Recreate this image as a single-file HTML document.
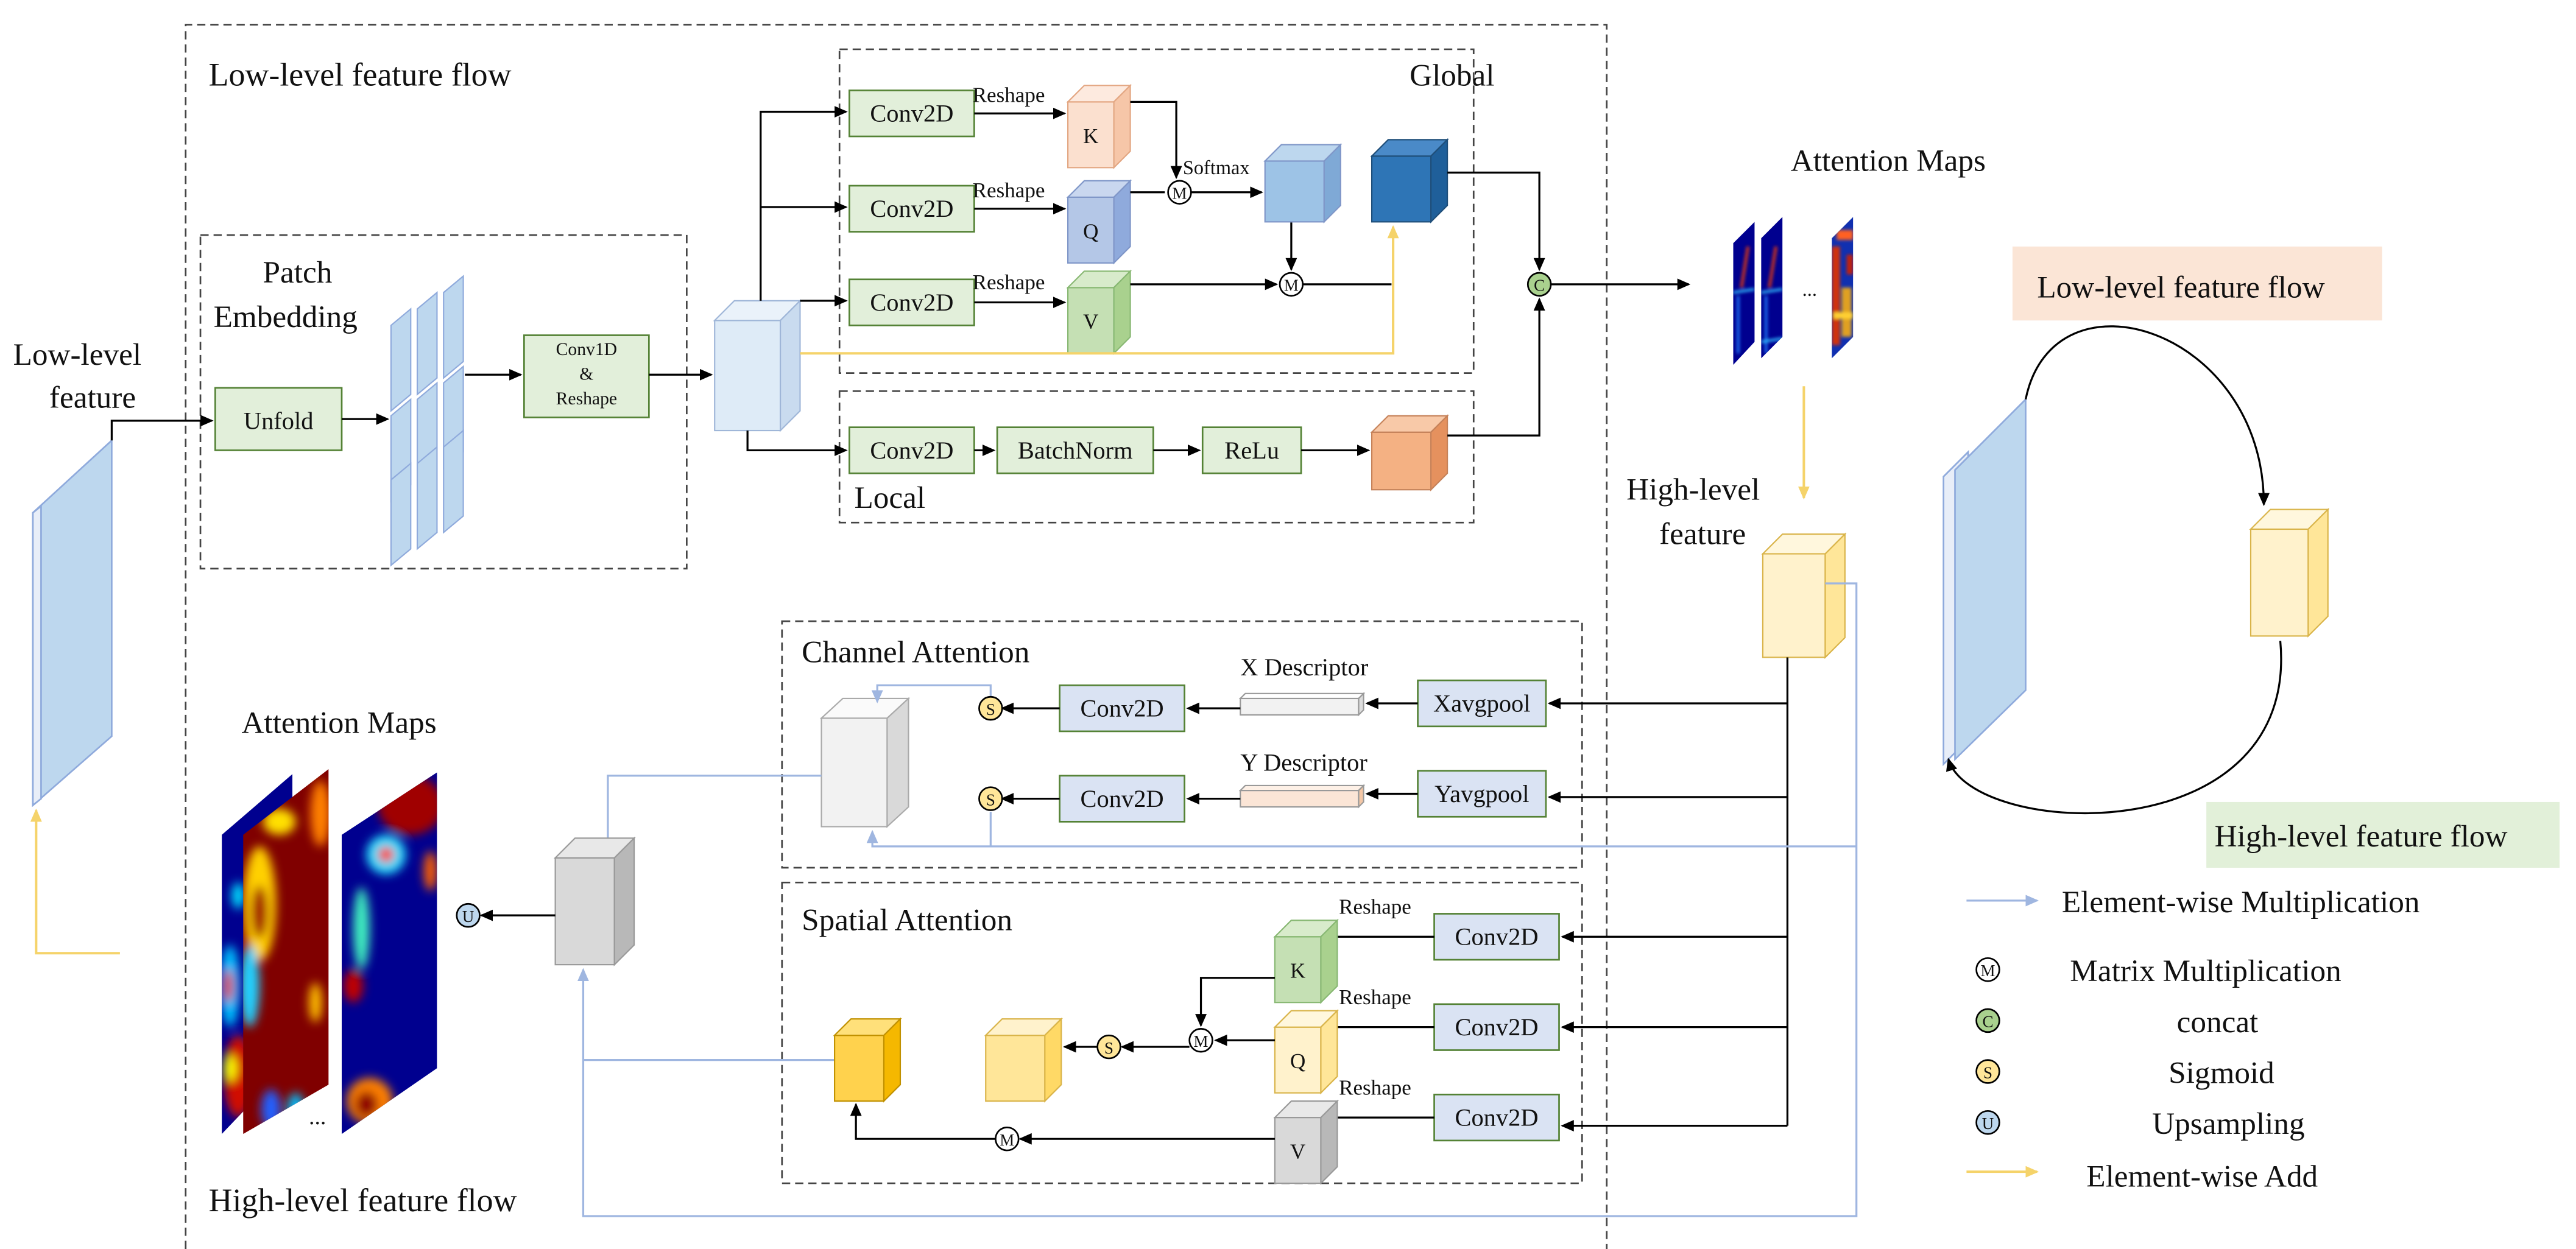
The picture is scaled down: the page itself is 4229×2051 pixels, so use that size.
<!DOCTYPE html>
<html><head><meta charset="utf-8"><style>
html,body{margin:0;padding:0;background:#fff;}
svg{display:block;}
text{font-family:"Liberation Serif",serif;fill:#111;}
</style></head><body>
<svg width="4229" height="2051" viewBox="0 0 1568 760" preserveAspectRatio="none" xmlns="http://www.w3.org/2000/svg">
<defs>
<marker id="a" markerWidth="8" markerHeight="8" refX="7" refY="4" orient="auto" markerUnits="userSpaceOnUse"><path d="M0,0.5 L8,4 L0,7.5 Z" fill="#000"/></marker>
<marker id="b" markerWidth="8" markerHeight="8" refX="7" refY="4" orient="auto" markerUnits="userSpaceOnUse"><path d="M0,0.5 L8,4 L0,7.5 Z" fill="#9fb6e0"/></marker>
<marker id="y" markerWidth="8" markerHeight="8" refX="7" refY="4" orient="auto" markerUnits="userSpaceOnUse"><path d="M0,0.5 L8,4 L0,7.5 Z" fill="#f5d36a"/></marker>
<filter id="bl" x="-20%" y="-20%" width="140%" height="140%"><feGaussianBlur stdDeviation="3"/></filter>
<filter id="bl2" x="-20%" y="-20%" width="140%" height="140%"><feGaussianBlur stdDeviation="1"/></filter>
<clipPath id="c1"><polygon points="135,508 178,471 178,645 135,690"/></clipPath>
<clipPath id="c2"><polygon points="148,508 200,468 200,660 148,690"/></clipPath>
<clipPath id="c3"><polygon points="208,508 266,470 266,650 208,690"/></clipPath>
<clipPath id="t1"><polygon points="1055,148 1068,135 1068,208 1055,222"/></clipPath>
<clipPath id="t2"><polygon points="1072,145 1085,132 1085,205 1072,218"/></clipPath>
<clipPath id="t3"><polygon points="1115,145 1128,132 1128,205 1115,218"/></clipPath>
</defs>

<!-- big dashed box -->
<g fill="none" stroke="#444" stroke-width="1" stroke-dasharray="5,3">
<path d="M113,760 L113,15 L978,15 L978,760"/>
<rect x="122" y="143" width="296" height="203"/>
<rect x="511" y="30" width="386" height="197"/>
<rect x="511" y="238" width="386" height="80"/>
<rect x="476" y="378" width="487" height="150"/>
<rect x="476" y="537" width="487" height="183"/>
</g>

<text x="127" y="52" font-size="20">Low-level feature flow</text>
<text x="160" y="172" font-size="19">Patch</text>
<text x="130" y="199" font-size="19">Embedding</text>
<text x="8" y="222" font-size="19">Low-level</text>
<text x="30" y="248" font-size="19">feature</text>
<text x="858" y="52" font-size="19">Global</text>
<text x="520" y="309" font-size="19">Local</text>
<text x="1090" y="104" font-size="19">Attention Maps</text>
<text x="990" y="304" font-size="19">High-level</text>
<text x="1010" y="331" font-size="19">feature</text>
<text x="488" y="403" font-size="19">Channel Attention</text>
<text x="488" y="566" font-size="19">Spatial Attention</text>
<text x="147" y="446" font-size="19">Attention Maps</text>
<text x="127" y="737" font-size="20">High-level feature flow</text>

<!-- left slab -->
<polygon points="20,312 68,268 68,448 20,490" fill="#bdd7ee" stroke="#8faadc" stroke-width="1"/>
<polygon points="20,312 25,308 25,486 20,490" fill="#e8eef8" stroke="#8faadc" stroke-width="1"/>
<polyline points="68,268 68,256 129,256" fill="none" stroke="#000" stroke-width="1.2" marker-end="url(#a)"/>
<polyline points="73,580 22,580 22,493" fill="none" stroke="#f5d36a" stroke-width="1.5" marker-end="url(#y)"/>

<!-- Unfold -->
<rect x="131" y="236" width="77" height="38" fill="#e2efda" stroke="#548235"/>
<text x="169.5" y="261" font-size="15" text-anchor="middle">Unfold</text>
<line x1="208" y1="255" x2="236" y2="255" stroke="#000" stroke-width="1.2" marker-end="url(#a)"/>
<g fill="#bdd7ee" stroke="#8faadc" stroke-width="0.8">
<polygon points="238,198 250,188 250,240 238,250"/><polygon points="254,188 266,178 266,230 254,240"/><polygon points="270,178 282,168 282,220 270,230"/>
<polygon points="238,253 250,243 250,295 238,305"/><polygon points="254,243 266,233 266,285 254,295"/><polygon points="270,233 282,223 282,275 270,285"/>
<polygon points="238,292 250,282 250,334 238,344"/><polygon points="254,282 266,272 266,324 254,334"/><polygon points="270,272 282,262 282,314 270,324"/>
</g>
<line x1="283" y1="228" x2="317" y2="228" stroke="#000" stroke-width="1.2" marker-end="url(#a)"/>
<rect x="319" y="204" width="76" height="50" fill="#e2efda" stroke="#548235"/>
<text x="357" y="216" font-size="11" text-anchor="middle">Conv1D</text>
<text x="357" y="231" font-size="11" text-anchor="middle">&amp;</text>
<text x="357" y="246" font-size="11" text-anchor="middle">Reshape</text>
<line x1="395" y1="228" x2="433" y2="228" stroke="#000" stroke-width="1.2" marker-end="url(#a)"/>
<g stroke="#9fb6d8" stroke-width="0.8"><rect x="435" y="195" width="40" height="67" fill="#deebf7"/><polygon points="435,195 447,183 487,183 475,195" fill="#eaf2fa"/><polygon points="475,195 487,183 487,250 475,262" fill="#c9dbef"/></g>

<g fill="none" stroke="#000" stroke-width="1.2">
<polyline points="463,183 463,68 515,68" marker-end="url(#a)"/>
<line x1="463" y1="126" x2="515" y2="126" marker-end="url(#a)"/>
<line x1="487" y1="183" x2="515" y2="183" marker-end="url(#a)"/>
<polyline points="455,262 455,274 515,274" marker-end="url(#a)"/>
</g>
<g fill="#e2efda" stroke="#548235"><rect x="517" y="55" width="76" height="28"/><rect x="517" y="113" width="76" height="28"/><rect x="517" y="170" width="76" height="28"/><rect x="517" y="260" width="76" height="28"/><rect x="607" y="260" width="95" height="28"/><rect x="732" y="260" width="60" height="28"/></g>
<g font-size="15" text-anchor="middle"><text x="555" y="74">Conv2D</text><text x="555" y="132">Conv2D</text><text x="555" y="189">Conv2D</text><text x="555" y="279">Conv2D</text><text x="654.5" y="279">BatchNorm</text><text x="762" y="279">ReLu</text></g>
<g font-size="13"><text x="592" y="62">Reshape</text><text x="592" y="120">Reshape</text><text x="592" y="176">Reshape</text></g>
<g stroke="#000" stroke-width="1.2" fill="none">
<line x1="593" y1="69" x2="648" y2="69" marker-end="url(#a)"/>
<line x1="593" y1="127" x2="648" y2="127" marker-end="url(#a)"/>
<line x1="593" y1="184" x2="648" y2="184" marker-end="url(#a)"/>
<line x1="593" y1="274" x2="605" y2="274" marker-end="url(#a)"/>
<line x1="702" y1="274" x2="730" y2="274" marker-end="url(#a)"/>
<line x1="792" y1="274" x2="833" y2="274" marker-end="url(#a)"/>
</g>
<g stroke-width="0.8">
<g stroke="#e3a783"><rect x="650" y="62" width="28" height="40" fill="#fbe0cf"/><polygon points="650,62 660,52 688,52 678,62" fill="#fdeadf"/><polygon points="678,62 688,52 688,92 678,102" fill="#f6c6a8"/></g>
<g stroke="#7f96c8"><rect x="650" y="120" width="28" height="40" fill="#b4c7e7"/><polygon points="650,120 660,110 688,110 678,120" fill="#c9d7ef"/><polygon points="678,120 688,110 688,150 678,160" fill="#8faadc"/></g>
<g stroke="#88b873"><rect x="650" y="175" width="28" height="40" fill="#c5e0b4"/><polygon points="650,175 660,165 688,165 678,175" fill="#d8ebcb"/><polygon points="678,175 688,165 688,205 678,215" fill="#a9d18e"/></g>
</g>
<g font-size="13" text-anchor="middle"><text x="664" y="87">K</text><text x="664" y="145">Q</text><text x="664" y="200">V</text></g>
<g fill="none" stroke="#000" stroke-width="1.2">
<polyline points="688,62 716,62 716,108" marker-end="url(#a)"/>
<line x1="688" y1="117" x2="709" y2="117"/>
<line x1="725" y1="117" x2="768" y2="117" marker-end="url(#a)"/>
<line x1="688" y1="173" x2="777" y2="173" marker-end="url(#a)"/>
<line x1="786" y1="135" x2="786" y2="164" marker-end="url(#a)"/>
<line x1="793" y1="173" x2="847" y2="173"/>
</g>
<text x="720" y="106" font-size="12">Softmax</text>
<g stroke="#7f96c8" stroke-width="0.8"><rect x="770" y="98" width="36" height="37" fill="#9dc3e6"/><polygon points="770,98 780,88 816,88 806,98" fill="#bdd7ee"/><polygon points="806,98 816,88 816,125 806,135" fill="#7fa9d6"/></g>
<g stroke="#1f4e79" stroke-width="0.8"><rect x="835" y="95" width="36" height="40" fill="#2e75b6"/><polygon points="835,95 845,85 881,85 871,95" fill="#4a8ac8"/><polygon points="871,95 881,85 881,125 871,135" fill="#1f5f9a"/></g>
<polyline points="487,215 848,215 848,138" fill="none" stroke="#f5d36a" stroke-width="1.5" marker-end="url(#y)"/>
<g stroke="#c5825a" stroke-width="0.8"><rect x="835" y="263" width="36" height="35" fill="#f4b183"/><polygon points="835,263 845,253 881,253 871,263" fill="#f8c9a8"/><polygon points="871,263 881,253 881,288 871,298" fill="#e5915e"/></g>
<g fill="none" stroke="#000" stroke-width="1.2">
<polyline points="881,105 937,105 937,164" marker-end="url(#a)"/>
<polyline points="881,265 937,265 937,182" marker-end="url(#a)"/>
<line x1="944" y1="173" x2="1028" y2="173" marker-end="url(#a)"/>
</g>

<!-- attention maps top -->
<g clip-path="url(#t1)"><rect x="1050" y="125" width="25" height="100" fill="#00008f"/>
<g filter="url(#bl2)"><line x1="1064" y1="150" x2="1060" y2="175" stroke="#c03020" stroke-width="2"/><line x1="1055" y1="178" x2="1068" y2="176" stroke="#30c0ff" stroke-width="1.5"/><line x1="1058" y1="180" x2="1058" y2="215" stroke="#2080ff" stroke-width="1.5"/></g></g>
<g clip-path="url(#t2)"><rect x="1068" y="125" width="25" height="100" fill="#00008f"/>
<g filter="url(#bl2)"><line x1="1081" y1="150" x2="1077" y2="175" stroke="#c03020" stroke-width="2"/><line x1="1072" y1="178" x2="1085" y2="176" stroke="#30c0ff" stroke-width="1.5"/><line x1="1075" y1="180" x2="1075" y2="215" stroke="#2080ff" stroke-width="1.5"/><line x1="1072" y1="208" x2="1085" y2="206" stroke="#30c0ff" stroke-width="1.5"/></g></g>
<text x="1097" y="180" font-size="12">...</text>
<g clip-path="url(#t3)"><rect x="1110" y="125" width="25" height="100" fill="#1030b0"/>
<g filter="url(#bl2)"><rect x="1115" y="150" width="5" height="60" fill="#d03010"/><rect x="1121" y="175" width="6" height="30" fill="#e0a020"/><rect x="1118" y="140" width="10" height="6" fill="#ff6020"/><rect x="1124" y="155" width="4" height="12" fill="#c02010"/><rect x="1116" y="190" width="12" height="4" fill="#ffd030"/></g></g>

<line x1="1098" y1="235" x2="1098" y2="303" stroke="#f5d36a" stroke-width="1.5" marker-end="url(#y)"/>
<g stroke="#d9b44a" stroke-width="0.8"><rect x="1073" y="337" width="38" height="63" fill="#fff2cc"/><polygon points="1073,337 1085,325 1123,325 1111,337" fill="#fff7dd"/><polygon points="1111,337 1123,325 1123,388 1111,400" fill="#ffe699"/></g>

<g fill="none" stroke="#000" stroke-width="1.2">
<line x1="1088" y1="400" x2="1088" y2="685"/>
<line x1="1088" y1="428" x2="943" y2="428" marker-end="url(#a)"/>
<line x1="1088" y1="485" x2="943" y2="485" marker-end="url(#a)"/>
<line x1="1088" y1="570" x2="951" y2="570" marker-end="url(#a)"/>
<line x1="1088" y1="625" x2="951" y2="625" marker-end="url(#a)"/>
<line x1="1088" y1="685" x2="951" y2="685" marker-end="url(#a)"/>
</g>

<g fill="#dae3f3" stroke="#548235"><rect x="863" y="414" width="78" height="28"/><rect x="863" y="469" width="78" height="28"/><rect x="645" y="417" width="76" height="28"/><rect x="645" y="472" width="76" height="28"/>
<rect x="873" y="556" width="76" height="28"/><rect x="873" y="611" width="76" height="28"/><rect x="873" y="666" width="76" height="28"/></g>
<g font-size="15" text-anchor="middle"><text x="902" y="433">Xavgpool</text><text x="902" y="488">Yavgpool</text><text x="683" y="436">Conv2D</text><text x="683" y="491">Conv2D</text>
<text x="911" y="575">Conv2D</text><text x="911" y="630">Conv2D</text><text x="911" y="685">Conv2D</text></g>
<text x="755" y="411" font-size="15">X Descriptor</text>
<text x="755" y="469" font-size="15">Y Descriptor</text>
<g stroke="#999" stroke-width="0.8"><rect x="755" y="425" width="72" height="10" fill="#f2f2f2"/><polygon points="755,425 758,422 830,422 827,425" fill="#fff"/><polygon points="827,425 830,422 830,432 827,435" fill="#ddd"/>
<rect x="755" y="481" width="72" height="10" fill="#fbe5d6"/><polygon points="755,481 758,478 830,478 827,481" fill="#fdf0e6"/><polygon points="827,481 830,478 830,488 827,491" fill="#f4c7a6"/></g>
<g fill="none" stroke="#000" stroke-width="1.2">
<line x1="863" y1="428" x2="832" y2="428" marker-end="url(#a)"/>
<line x1="863" y1="483" x2="832" y2="483" marker-end="url(#a)"/>
<line x1="755" y1="431" x2="723" y2="431" marker-end="url(#a)"/>
<line x1="755" y1="486" x2="723" y2="486" marker-end="url(#a)"/>
<line x1="645" y1="431" x2="610" y2="431" marker-end="url(#a)"/>
<line x1="645" y1="486" x2="610" y2="486" marker-end="url(#a)"/>
</g>
<g stroke="#aaa" stroke-width="0.8"><rect x="500" y="437" width="40" height="66" fill="#f2f2f2"/><polygon points="500,437 513,425 553,425 540,437" fill="#fafafa"/><polygon points="540,437 553,425 553,491 540,503" fill="#d9d9d9"/></g>
<g fill="none" stroke="#9fb6e0" stroke-width="1.2">
<polyline points="603,424 603,417 534,417 534,427" marker-end="url(#b)"/>
<polyline points="603,494 603,515 1130,515"/>
<polyline points="603,515 531,515 531,506" marker-end="url(#b)"/>
<polyline points="500,472 370,472 370,520" marker-end="url(#b)"/>
<polyline points="1111,355 1130,355 1130,740 355,740 355,590" marker-end="url(#b)"/>
<polyline points="508,645 355,645"/>
</g>
<g stroke="#999" stroke-width="0.8"><rect x="338" y="522" width="36" height="65" fill="#d9d9d9"/><polygon points="338,522 350,510 386,510 374,522" fill="#e8e8e8"/><polygon points="374,522 386,510 386,575 374,587" fill="#b8b8b8"/></g>
<line x1="338" y1="557" x2="293" y2="557" stroke="#000" stroke-width="1.2" marker-end="url(#a)"/>

<g font-size="13"><text x="815" y="556">Reshape</text><text x="815" y="611">Reshape</text><text x="815" y="666">Reshape</text></g>
<g fill="none" stroke="#000" stroke-width="1.2">
<line x1="873" y1="570" x2="806" y2="570" marker-end="url(#a)"/>
<line x1="873" y1="625" x2="806" y2="625" marker-end="url(#a)"/>
<line x1="873" y1="680" x2="806" y2="680" marker-end="url(#a)"/>
</g>
<g stroke-width="0.8">
<g stroke="#88b873"><rect x="776" y="570" width="28" height="40" fill="#c5e0b4"/><polygon points="776,570 786,560 814,560 804,570" fill="#d8ebcb"/><polygon points="804,570 814,560 814,600 804,610" fill="#a9d18e"/></g>
<g stroke="#d9b44a"><rect x="776" y="625" width="28" height="40" fill="#fff2cc"/><polygon points="776,625 786,615 814,615 804,625" fill="#fff7dd"/><polygon points="804,625 814,615 814,655 804,665" fill="#ffe699"/></g>
<g stroke="#999"><rect x="776" y="680" width="28" height="40" fill="#d9d9d9"/><polygon points="776,680 786,670 814,670 804,680" fill="#e8e8e8"/><polygon points="804,680 814,670 814,710 804,720" fill="#b8b8b8"/></g>
<g stroke="#d9b44a"><rect x="600" y="630" width="36" height="40" fill="#ffe699"/><polygon points="600,630 610,620 646,620 636,630" fill="#fff2cc"/><polygon points="636,630 646,620 646,660 636,670" fill="#ffd966"/></g>
<g stroke="#c09000"><rect x="508" y="630" width="30" height="40" fill="#ffd24d"/><polygon points="508,630 518,620 548,620 538,630" fill="#ffe07a"/><polygon points="538,630 548,620 548,660 538,670" fill="#f5b800"/></g>
</g>
<g font-size="13" text-anchor="middle"><text x="790" y="595">K</text><text x="790" y="650">Q</text><text x="790" y="705">V</text></g>
<g fill="none" stroke="#000" stroke-width="1.2">
<polyline points="776,595 731,595 731,624" marker-end="url(#a)"/>
<line x1="776" y1="633" x2="740" y2="633" marker-end="url(#a)"/>
<line x1="724" y1="637" x2="683" y2="637" marker-end="url(#a)"/>
<line x1="668" y1="637" x2="648" y2="637" marker-end="url(#a)"/>
<line x1="776" y1="693" x2="621" y2="693" marker-end="url(#a)"/>
<polyline points="606,693 521,693 521,672" marker-end="url(#a)"/>
</g>

<g font-size="10" text-anchor="middle">
<circle cx="718" cy="117" r="7" fill="#fff" stroke="#000"/><text x="718" y="121">M</text>
<circle cx="786" cy="173" r="7" fill="#fff" stroke="#000"/><text x="786" y="177">M</text>
<circle cx="937" cy="173" r="7" fill="#a9d18e" stroke="#000"/><text x="937" y="177">C</text>
<circle cx="603" cy="431" r="7" fill="#ffe699" stroke="#000"/><text x="603" y="435">S</text>
<circle cx="603" cy="486" r="7" fill="#ffe699" stroke="#000"/><text x="603" y="490">S</text>
<circle cx="285" cy="557" r="7" fill="#bdd7ee" stroke="#000"/><text x="285" y="561">U</text>
<circle cx="731" cy="633" r="7" fill="#fff" stroke="#000"/><text x="731" y="637">M</text>
<circle cx="675" cy="637" r="7" fill="#ffe699" stroke="#000"/><text x="675" y="641">S</text>
<circle cx="613" cy="693" r="7" fill="#fff" stroke="#000"/><text x="613" y="697">M</text>
</g>

<!-- attention maps bottom -->
<g clip-path="url(#c1)"><rect x="130" y="460" width="60" height="240" fill="#00008f"/>
<g filter="url(#bl)"><ellipse cx="140" cy="600" rx="6" ry="25" fill="#00c0ff"/><ellipse cx="139" cy="600" rx="3" ry="10" fill="#e00000"/><ellipse cx="145" cy="545" rx="4" ry="8" fill="#00e0ff"/><ellipse cx="145" cy="655" rx="9" ry="25" fill="#d01000"/><ellipse cx="140" cy="650" rx="4" ry="8" fill="#ffff00"/></g></g>
<g clip-path="url(#c2)"><rect x="140" y="460" width="70" height="240" fill="#800000"/>
<g filter="url(#bl)"><ellipse cx="158" cy="550" rx="10" ry="35" fill="#ffd000"/><ellipse cx="158" cy="555" rx="5" ry="16" fill="#a00000"/><ellipse cx="152" cy="600" rx="6" ry="25" fill="#20d0ff"/><ellipse cx="165" cy="675" rx="6" ry="12" fill="#2060ff"/><ellipse cx="180" cy="675" rx="5" ry="10" fill="#00c0ff"/><ellipse cx="195" cy="495" rx="6" ry="20" fill="#ff8000"/><ellipse cx="192" cy="610" rx="4" ry="12" fill="#ffc000"/><ellipse cx="170" cy="500" rx="10" ry="8" fill="#ffe000"/></g></g>
<g clip-path="url(#c3)"><rect x="200" y="460" width="75" height="240" fill="#00008f"/>
<g filter="url(#bl)"><ellipse cx="250" cy="490" rx="20" ry="18" fill="#a00000"/><ellipse cx="235" cy="520" rx="12" ry="12" fill="#20e0ff"/><ellipse cx="235" cy="520" rx="5" ry="5" fill="#ff3000"/><ellipse cx="220" cy="565" rx="5" ry="25" fill="#40f0c0"/><ellipse cx="215" cy="600" rx="6" ry="10" fill="#c00000"/><ellipse cx="225" cy="670" rx="14" ry="14" fill="#ff8000"/><ellipse cx="223" cy="672" rx="7" ry="8" fill="#900000"/><ellipse cx="262" cy="530" rx="4" ry="12" fill="#ff6000"/></g></g>
<text x="188" y="684" font-size="14">...</text>

<!-- right side diagram -->
<rect x="1225" y="150" width="225" height="45" fill="#fbe5d6"/>
<text x="1240" y="181" font-size="19">Low-level feature flow</text>
<rect x="1343" y="488" width="215" height="40" fill="#e2f0d9"/>
<text x="1348" y="515" font-size="19">High-level feature flow</text>
<polygon points="1183,290 1198,275 1198,450 1183,465" fill="#e8eef8" stroke="#8faadc"/>
<polygon points="1190,286 1233,243 1233,420 1190,462" fill="#bdd7ee" stroke="#8faadc"/>
<g stroke="#d9b44a" stroke-width="0.8"><rect x="1370" y="322" width="35" height="65" fill="#fff2cc"/><polygon points="1370,322 1382,310 1417,310 1405,322" fill="#fff7dd"/><polygon points="1405,322 1417,310 1417,375 1405,387" fill="#ffe699"/></g>
<path d="M1233,243 C1250,160 1378,200 1378,307" fill="none" stroke="#000" stroke-width="1.2" marker-end="url(#a)"/>
<path d="M1388,390 C1400,520 1200,510 1186,462" fill="none" stroke="#000" stroke-width="1.2" marker-end="url(#a)"/>

<line x1="1197" y1="548" x2="1240" y2="548" stroke="#9fb6e0" stroke-width="1.2" marker-end="url(#b)"/>
<g font-size="19"><text x="1255" y="555">Element-wise Multiplication</text><text x="1260" y="597">Matrix Multiplication</text><text x="1325" y="628">concat</text><text x="1320" y="659">Sigmoid</text><text x="1310" y="690">Upsampling</text><text x="1270" y="722">Element-wise Add</text></g>
<g font-size="10" text-anchor="middle">
<circle cx="1210" cy="590" r="7" fill="#fff" stroke="#000"/><text x="1210" y="594">M</text>
<circle cx="1210" cy="621" r="7" fill="#a9d18e" stroke="#000"/><text x="1210" y="625">C</text>
<circle cx="1210" cy="652" r="7" fill="#ffe699" stroke="#000"/><text x="1210" y="656">S</text>
<circle cx="1210" cy="683" r="7" fill="#bdd7ee" stroke="#000"/><text x="1210" y="687">U</text>
</g>
<line x1="1197" y1="713" x2="1240" y2="713" stroke="#f5d36a" stroke-width="1.5" marker-end="url(#y)"/>
</svg>
</body></html>
